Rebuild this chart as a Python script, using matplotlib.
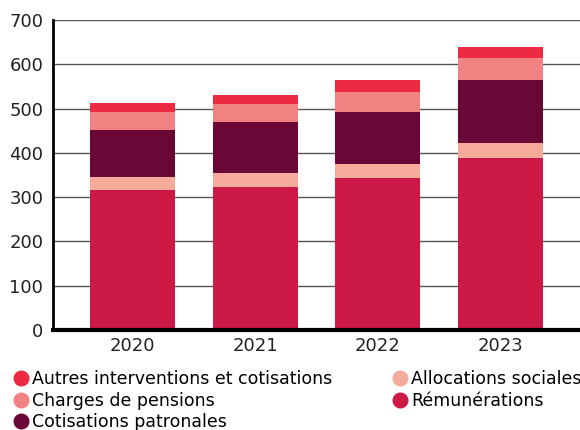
import matplotlib
matplotlib.use("Agg")
import matplotlib.pyplot as plt
from matplotlib.lines import Line2D
import numpy as np

years = ["2020", "2021", "2022", "2023"]
remunerations = [316, 323, 343, 388.5]
allocations = [29.5, 31.5, 31.5, 34]
cotisations = [106, 115, 117.5, 142]
pensions = [40.5, 40.5, 45, 50]
autres = [20.5, 20.5, 27, 25]

series = [
    ("Rémunérations", remunerations, "#cc1946"),
    ("Allocations sociales", allocations, "#f5aa9c"),
    ("Cotisations patronales", cotisations, "#6b0737"),
    ("Charges de pensions", pensions, "#f28282"),
    ("Autres interventions et cotisations", autres, "#ec2b43"),
]

plt.rcParams['font.family'] = ['DejaVu Sans']

fig = plt.figure(figsize=(5.8, 4.3), dpi=100)
ax = fig.add_axes([53 / 580, 1 - 330 / 430, 1 - 53 / 580, 310 / 430])

x = np.arange(len(years))
bottom = np.zeros(len(years))
for name, vals, col in series:
    ax.bar(x, vals, width=0.69, bottom=bottom, color=col, label=name, zorder=3)
    bottom += np.array(vals)

ax.set_xlim(-0.65, 3.65)
ax.set_ylim(0, 700)
ax.set_yticks(range(0, 701, 100))
ax.set_xticks(x)
ax.set_xticklabels(years)
ax.tick_params(axis="both", length=0, labelsize=13, colors="#222222")
ax.tick_params(axis="y", pad=7)
ax.tick_params(axis="x", pad=5)
ax.grid(axis="y", color="#555555", linewidth=1, zorder=0)
for s in ["top", "right"]:
    ax.spines[s].set_visible(False)
ax.spines["left"].set_linewidth(2)
ax.spines["bottom"].set_linewidth(3)
ax.spines["left"].set_zorder(4)
ax.spines["bottom"].set_zorder(4)

order = [4, 3, 2, 1, 0]
handles = [Line2D([], [], marker="o", linestyle="", markersize=10.5,
                  markerfacecolor=series[i][2], markeredgecolor=series[i][2])
           for i in order]
labels = [series[i][0] for i in order]
fig.legend(handles, labels, ncol=2, loc="upper left", bbox_to_anchor=(0.008, 0.155),
           frameon=False, fontsize=12.5, handletextpad=0.05, columnspacing=3.4,
           labelspacing=0.2, borderaxespad=0, handlelength=1.1)

fig.savefig("out.png", dpi=100)
